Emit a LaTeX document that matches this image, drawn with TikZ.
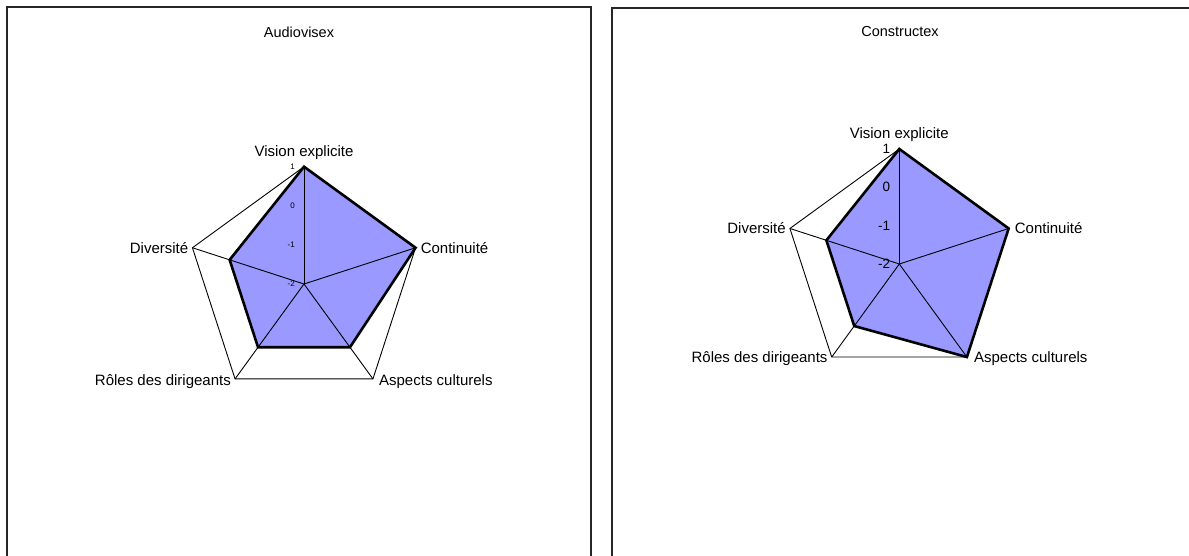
\documentclass[tikz,border=0pt]{standalone}
\usepackage{fontspec}
\setmainfont{Liberation Sans}
\usetikzlibrary{calc,positioning}
\definecolor{radarblue}{HTML}{9999FF}

\begin{document}
\begin{tikzpicture}[x=1pt,y=1pt,
		frame/.style={draw=black!85,line width=1.6pt},
		grid/.style={black,line width=0.9pt},
		datapoly/.style={black,line width=2.6pt,line join=miter},
		lbl/.style={font=\fontsize{15}{17}\selectfont,inner sep=1pt},
		tick/.style={inner sep=0pt,anchor=east}
	]
	\useasboundingbox (0,0) rectangle (1189,-555);
	\clip (0,0) rectangle (1189,-555);
	\fill[white] (0,0) rectangle (1189,-555);
	\draw[frame] (7,-7) rectangle (591,-600);
	\draw[frame] (612,-8) rectangle (1196,-600);
	\node[font=\fontsize{14.5}{17}\selectfont] (titleA) at (299,-32) {Audiovisex};
	\node[font=\fontsize{14.5}{17}\selectfont] (titleC) at (900,-32) {Constructex};
	% Audiovisex
	\begin{scope}[shift={(304,-284)}]
		\def\rad{117.3}
		\coordinate (Ac) at (0,0);
		\foreach \n/\a/\v in {vis/90/1,con/18/1,asp/-54/0,rol/-126/0,div/162/0}{
			\coordinate (A\n) at (\a:\rad);
			\coordinate (Ad\n) at (\a:{(\v+2)*\rad/3});
		}
		\fill[radarblue] (Advis)--(Adcon)--(Adasp)--(Adrol)--(Addiv)--cycle;
		\draw[grid] (Avis)--(Acon)--(Aasp)--(Arol)--(Adiv)--cycle;
		\foreach \n in {vis,con,asp,rol,div}
			\draw[grid] (Ac)--(A\n);
		\draw[datapoly] (Advis)--(Adcon)--(Adasp)--(Adrol)--(Addiv)--cycle;
		\foreach \t in {-2,...,1}
			\node[tick,font=\fontsize{8}{9}\selectfont] at (-9,{(\t+2)*\rad/3}) {\t};
		\node[lbl,above=6pt of Avis] (Avisl) {Vision explicite};
		\node[lbl,right=4pt of Acon] (Aconl) {Continuité};
		\node[lbl,right=5pt of Aasp,yshift=-3pt] (Aaspl) {Aspects culturels};
		\node[lbl,left=3pt of Arol,yshift=-3pt] (Aroll) {Rôles des dirigeants};
		\node[lbl,left=3pt of Adiv] (Adivl) {Diversité};
	\end{scope}
	% Constructex
	\begin{scope}[shift={(899.3,-264)}]
		\def\rad{115}
		\coordinate (Cc) at (0,0);
		\foreach \n/\a/\v in {vis/90/1,con/18/1,asp/-54/1,rol/-126/0,div/162/0}{
			\coordinate (C\n) at (\a:\rad);
			\coordinate (Cd\n) at (\a:{(\v+2)*\rad/3});
		}
		\fill[radarblue] (Cdvis)--(Cdcon)--(Cdasp)--(Cdrol)--(Cddiv)--cycle;
		\draw[grid] (Cvis)--(Ccon)--(Casp)--(Crol)--(Cdiv)--cycle;
		\foreach \n in {vis,con,asp,rol,div}
			\draw[grid] (Cc)--(C\n);
		\draw[datapoly] (Cdvis)--(Cdcon)--(Cdasp)--(Cdrol)--(Cddiv)--cycle;
		\foreach \t in {-2,...,1}
			\node[tick,font=\fontsize{13.5}{15}\selectfont] at (-9,{(\t+2)*\rad/3}) {\t};
		\node[lbl,above=6pt of Cvis] (Cvisl) {Vision explicite};
		\node[lbl,right=5pt of Ccon] (Cconl) {Continuité};
		\node[lbl,right=6pt of Casp,yshift=-2pt] (Caspl) {Aspects culturels};
		\node[lbl,left=3pt of Crol,yshift=-2pt] (Croll) {Rôles des dirigeants};
		\node[lbl,left=3pt of Cdiv] (Cdivl) {Diversité};
	\end{scope}
\end{tikzpicture}
\end{document}
